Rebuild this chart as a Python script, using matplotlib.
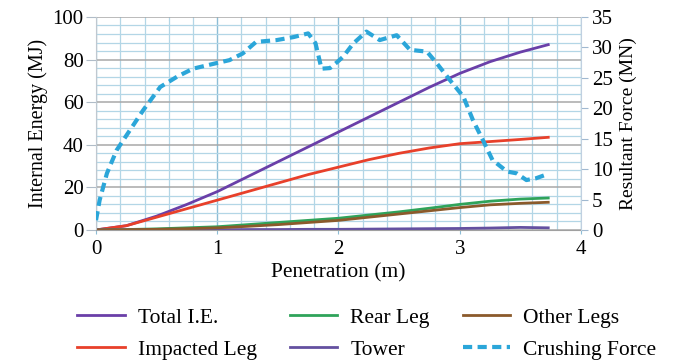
import numpy as np
import matplotlib.pyplot as plt
from matplotlib.ticker import MultipleLocator

plt.rcParams['font.family'] = ['Liberation Serif', 'DejaVu Serif']

# internal energy curves (MJ) vs penetration (m)
pen = [0, 0.25, 0.5, 0.75, 1.0, 1.25, 1.5, 1.75, 2.0, 2.25, 2.5, 2.75, 3.0, 3.25, 3.5, 3.73]
total_ie = [0, 2, 6.5, 12, 18, 25, 32, 39, 46, 53, 60, 67, 73.5, 79, 83.5, 87]
impacted_leg = [0, 2, 6, 10, 14, 18, 22, 26, 29.5, 33, 36, 38.5, 40.5, 41.5, 42.5, 43.5]
rear_leg = [0, 0.2, 0.5, 1.0, 1.5, 2.5, 3.5, 4.5, 5.5, 7, 8.5, 10.2, 12, 13.5, 14.5, 15]
other_legs = [0, 0.1, 0.3, 0.6, 1.0, 1.7, 2.5, 3.5, 4.5, 6, 7.5, 9, 10.5, 11.8, 12.5, 13]
tower = [0, 0, 0.05, 0.1, 0.1, 0.2, 0.2, 0.3, 0.3, 0.4, 0.5, 0.6, 0.7, 0.9, 1.2, 1.0]

# crushing force (MN)
pen_f = [0, 0.03, 0.09, 0.17, 0.28, 0.39, 0.53, 0.67, 0.80, 0.99, 1.10, 1.21, 1.32,
         1.49, 1.63, 1.75, 1.81, 1.86, 1.93, 1.99, 2.04, 2.12, 2.23, 2.34, 2.48,
         2.59, 2.73, 2.81, 2.92, 3.03, 3.11, 3.19, 3.27, 3.39, 3.47, 3.55, 3.63, 3.70]
force = [1.6, 4.9, 9.3, 13.1, 16.4, 19.7, 23.5, 25.2, 26.5, 27.4, 27.9, 29.0, 30.9,
         31.2, 31.7, 32.3, 30.7, 26.5, 26.6, 27.6, 28.5, 30.6, 32.6, 31.2, 32.0,
         29.6, 29.3, 27.4, 24.6, 21.9, 18.0, 14.8, 11.5, 9.6, 9.3, 8.2, 8.5, 9.0]

fig = plt.figure(figsize=(6.78, 3.61), dpi=100)
ax = fig.add_axes([0.1416, 0.363, 0.7153, 0.590])
ax2 = ax.twinx()

ax.set_xlim(0, 4)
ax.set_ylim(0, 100)
ax2.set_ylim(0, 35)

ax.xaxis.set_major_locator(MultipleLocator(1))
ax.xaxis.set_minor_locator(MultipleLocator(0.2))
ax.yaxis.set_major_locator(MultipleLocator(20))
ax.yaxis.set_minor_locator(MultipleLocator(4))
ax2.yaxis.set_major_locator(MultipleLocator(5))

ax.grid(which='minor', axis='both', color='#b3d6e6', linewidth=0.9)
ax.grid(which='major', axis='x', color='#8dbdd6', linewidth=1.0)
ax.grid(which='major', axis='y', color='#a8a8a8', linewidth=1.1)
ax.set_axisbelow(True)

for a in (ax, ax2):
    for s in a.spines.values():
        s.set_visible(False)
ax.spines['bottom'].set_visible(True)
ax.spines['bottom'].set_color('#a0a0a0')
ax.spines['left'].set_visible(True)
ax.spines['left'].set_color('#c0c8d0')
ax2.spines['right'].set_visible(True)
ax2.spines['right'].set_color('#c0d0e0')

ax.tick_params(which='minor', length=0)
ax.tick_params(axis='y', which='major', length=7, color='#b0bcc8', labelsize=15, pad=2)
ax.tick_params(axis='x', which='major', length=3, color='#8dbdd6', labelsize=15, pad=4)
ax2.tick_params(axis='y', length=5, color='#a0b8d0', labelsize=15, pad=3)

l1, = ax.plot(pen, total_ie, color='#6a3fa8', lw=2, label='Total I.E.')
l2, = ax.plot(pen, impacted_leg, color='#e8402a', lw=2, label='Impacted Leg')
l3, = ax.plot(pen, rear_leg, color='#2fa35a', lw=2, label='Rear Leg')
l4, = ax.plot(pen, tower, color='#6450a0', lw=2, label='Tower')
l5, = ax.plot(pen, other_legs, color='#8b5a2b', lw=2, label='Other Legs')
l6, = ax2.plot(pen_f, force, color='#2ba6d9', lw=3, ls=(0, (2.2, 1.3)), label='Crushing Force')

ax.set_xlabel('Penetration (m)', fontsize=15.5, labelpad=3)
ax.set_ylabel('Internal Energy (MJ)', fontsize=14.5, labelpad=3)
ax2.set_ylabel('Resultant Force (MN)', fontsize=14, labelpad=5)

fig.legend(handles=[l1, l2, l3, l4, l5, l6], ncol=3, loc='center',
           bbox_to_anchor=(0.541, 0.076), frameon=False, fontsize=15.5,
           handlelength=2.2, columnspacing=1.55, labelspacing=0.55, handletextpad=0.6,
           borderpad=0, borderaxespad=0)

fig.savefig('out.png', dpi=100)
